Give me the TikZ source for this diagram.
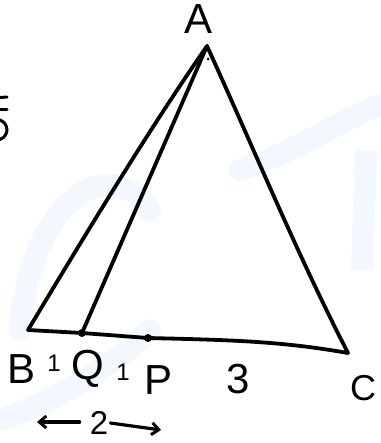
\documentclass[tikz,border=0pt]{standalone}
\usepackage{fontspec}
\setmainfont{Liberation Sans}
\usetikzlibrary{arrows.meta}
\definecolor{wm}{RGB}{242,248,253}
\begin{document}
\begin{tikzpicture}[x=1pt,y=-1pt,
  stroke/.style={line width=3.8pt,line cap=round,line join=round},
  lbl/.style={inner sep=0pt,font=\fontsize{42}{42}\selectfont},
  small/.style={inner sep=0pt,font=\fontsize{24}{24}\selectfont},
  dotpt/.style={circle,fill=black,inner sep=0pt,minimum size=8pt},
  arr/.style={line width=3.2pt,line cap=round,-{Straight Barb[length=7pt,width=12pt,line width=3pt]}}]
\useasboundingbox (0,0) rectangle (380,443);
\fill[white] (0,0) rectangle (380,443);
% faint watermark
\draw[wm,line width=22pt,line cap=round] (20,330) .. controls (30,200) and (110,150) .. (150,210);
\draw[wm,line width=22pt,line cap=round] (240,170) .. controls (300,150) and (340,120) .. (380,105);
\draw[wm,line width=22pt] (366,150) -- (362,270);
\draw[wm,line width=22pt,line cap=round] (0,420) .. controls (60,400) and (120,360) .. (150,330);
% vertices
\coordinate (A) at (207,46);
\coordinate (B) at (28,330);
\coordinate (Q) at (82,333);
\coordinate (P) at (148,338);
\coordinate (C) at (348,353);
% sides
\draw[stroke] (A) .. controls (150,128) and (88,230) .. (B);
\draw[stroke] (A) -- (Q);
\draw[stroke] (A) .. controls (254,149) and (296,252) .. (C);
\draw[stroke] (B) -- (Q) -- (P) .. controls (230,340) and (280,341) .. (C);
\node[dotpt] (q) at (Q) {};
\node[dotpt] (p) at (P) {};
\fill (208,59) circle (1.5pt);
% labels
\node[lbl] (la) at (199,19) {A};
\node[lbl] (lb) at (22,369) {B};
\node[small] (l1) at (54,363) {1};
\node[lbl] (lq) at (88,369) {Q};
\node[small] (l2) at (123,372) {1};
\node[lbl] (lp) at (159,380) {P};
\node[lbl] (l3) at (238,379) {3};
\node[lbl,font=\fontsize{36}{36}\selectfont] (lc) at (363,388) {C};
\node[lbl,font=\fontsize{33}{33}\selectfont] (l2b) at (99,423) {2};
\coordinate (al) at (37,422);
\coordinate (ar) at (161,430);
\draw[arr] (l2b.west) ++(-10,-1) -- (al);
\draw[arr] (l2b.east) ++(2,0) -- (ar);
% clipped fragment at left edge
\begin{scope}
\clip (0,0) rectangle (9,443);
\draw[line width=3pt,line cap=round] (-6,98) -- (7,97);
\draw[line width=3pt,line cap=round] (-6,110) -- (7,110);
\draw[line width=3pt] (-8,119) .. controls (5,118) and (9,128) .. (6,134) .. controls (4,139) and (-2,141) .. (-8,140);
\end{scope}
\end{tikzpicture}
\end{document}
